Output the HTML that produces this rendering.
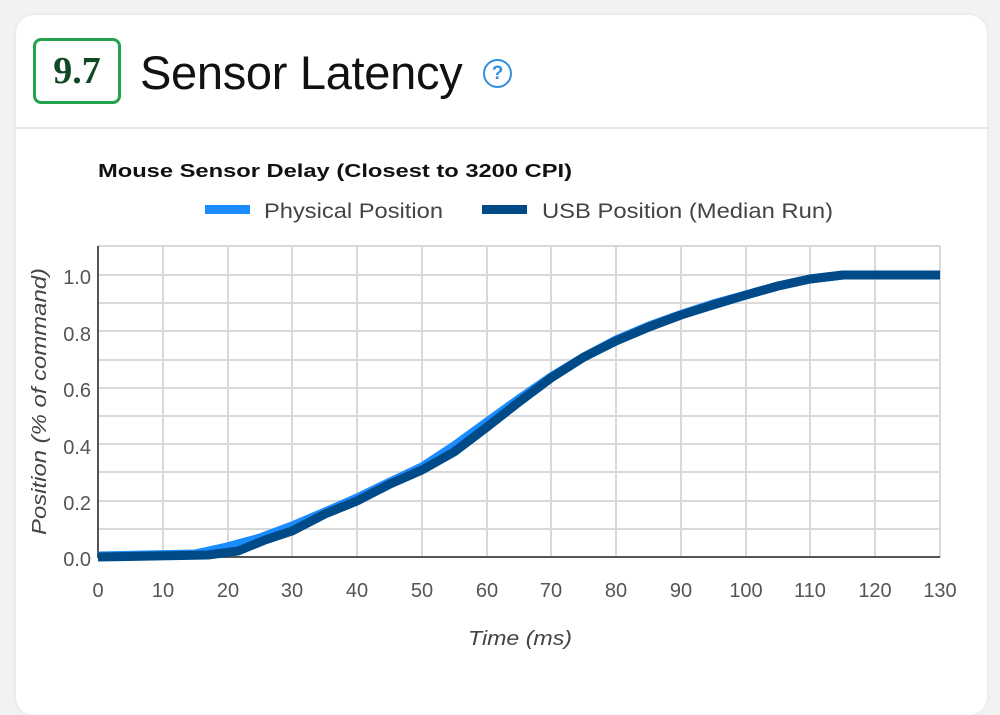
<!DOCTYPE html>
<html><head><meta charset="utf-8"><style>
body{margin:0;width:1000px;height:659px;background:#f2f2f2;font-family:"Liberation Sans",sans-serif;overflow:hidden;position:relative}
.card{position:absolute;left:16px;top:15px;width:971px;height:700px;background:#fff;border-radius:18px;box-shadow:0 0 4px rgba(0,0,0,.08)}
.score{position:absolute;left:33px;top:38px;width:88px;height:66px;border:3px solid #22a350;border-radius:8px;box-sizing:border-box;font-family:"Liberation Serif",serif;font-weight:bold;font-size:38px;color:#0f4a25;text-align:center;line-height:60px}
.title{position:absolute;left:140px;top:43px;font-size:47px;color:#111;line-height:60px;letter-spacing:-0.3px}
.help{position:absolute;left:483px;top:59px;width:29px;height:29px;border:2.5px solid #2f8fe0;border-radius:50%;box-sizing:border-box;color:#2f8fe0;font-size:19px;font-weight:bold;text-align:center;line-height:25px}
.hr{position:absolute;left:16px;top:127px;width:971px;height:2px;background:#e6e6e6}
</style></head><body>
<div class="card"></div>
<div class="score">9.7</div>
<div class="title">Sensor Latency</div>
<div class="help">?</div>
<div class="hr"></div>
<svg width="1000" height="659" style="position:absolute;left:0;top:0" font-family="Liberation Sans, sans-serif">
<text x="98" y="177" font-size="18" font-weight="bold" fill="#111" textLength="474" lengthAdjust="spacingAndGlyphs">Mouse Sensor Delay (Closest to 3200 CPI)</text>
<rect x="205" y="205" width="45" height="9" fill="#1a8cff"/>
<text x="264" y="218" font-size="21" fill="#444" textLength="179" lengthAdjust="spacingAndGlyphs">Physical Position</text>
<rect x="482" y="205" width="45" height="9" fill="#004a87"/>
<text x="542" y="218" font-size="21" fill="#444" textLength="291" lengthAdjust="spacingAndGlyphs">USB Position (Median Run)</text>
<g stroke="#d9d9d9" stroke-width="2">
<line x1="98" y1="246" x2="940" y2="246"/>
<line x1="98" y1="275" x2="940" y2="275"/><line x1="98" y1="303" x2="940" y2="303"/><line x1="98" y1="331" x2="940" y2="331"/><line x1="98" y1="360" x2="940" y2="360"/><line x1="98" y1="388" x2="940" y2="388"/><line x1="98" y1="416" x2="940" y2="416"/><line x1="98" y1="444" x2="940" y2="444"/><line x1="98" y1="472" x2="940" y2="472"/><line x1="98" y1="501" x2="940" y2="501"/><line x1="98" y1="529" x2="940" y2="529"/>
<line x1="163" y1="246" x2="163" y2="557"/><line x1="228" y1="246" x2="228" y2="557"/><line x1="292" y1="246" x2="292" y2="557"/><line x1="357" y1="246" x2="357" y2="557"/><line x1="422" y1="246" x2="422" y2="557"/><line x1="487" y1="246" x2="487" y2="557"/><line x1="551" y1="246" x2="551" y2="557"/><line x1="616" y1="246" x2="616" y2="557"/><line x1="681" y1="246" x2="681" y2="557"/><line x1="746" y1="246" x2="746" y2="557"/><line x1="810" y1="246" x2="810" y2="557"/><line x1="875" y1="246" x2="875" y2="557"/><line x1="940" y1="246" x2="940" y2="557"/>
</g>
<line x1="98" y1="246" x2="98" y2="558" stroke="#555" stroke-width="2"/>
<line x1="98" y1="557" x2="940" y2="557" stroke="#555" stroke-width="2"/>
<g font-size="20" fill="#555" text-anchor="end">
<text x="91" y="284">1.0</text><text x="91" y="341">0.8</text><text x="91" y="397">0.6</text><text x="91" y="454">0.4</text><text x="91" y="510">0.2</text><text x="91" y="566">0.0</text>
</g>
<g font-size="20" fill="#555" text-anchor="middle">
<text x="98" y="597">0</text><text x="163" y="597">10</text><text x="228" y="597">20</text><text x="292" y="597">30</text><text x="357" y="597">40</text><text x="422" y="597">50</text><text x="487" y="597">60</text><text x="551" y="597">70</text><text x="616" y="597">80</text><text x="681" y="597">90</text><text x="746" y="597">100</text><text x="810" y="597">110</text><text x="875" y="597">120</text><text x="940" y="597">130</text>
</g>
<text x="468" y="645" font-size="20" font-style="italic" fill="#444" textLength="104" lengthAdjust="spacingAndGlyphs">Time (ms)</text>
<text transform="translate(46,535) rotate(-90)" font-size="20" font-style="italic" fill="#444" textLength="267" lengthAdjust="spacingAndGlyphs">Position (% of command)</text>
<polyline fill="none" stroke="#1a8cff" stroke-width="9" stroke-linejoin="round" points="98,556 195,554 227,547 260,538 292,526 325,512 357,498 390,482 422,467 454,446 487,422 519,399 551,377 584,357 616,340 649,326 681,314.5 713,304 746,295 778,286 810,279 843,275 940,275"/>
<polyline fill="none" stroke="#004a87" stroke-width="9" stroke-linejoin="round" points="98,557 208,555 238,551 265,540 292,531 325,514 357,501 390,484 422,470 454,452 487,427 519,402 551,378 584,357 616,341 649,327 681,315 713,305 746,295 778,286 810,279 843,275 940,275"/>
</svg>
</body></html>
